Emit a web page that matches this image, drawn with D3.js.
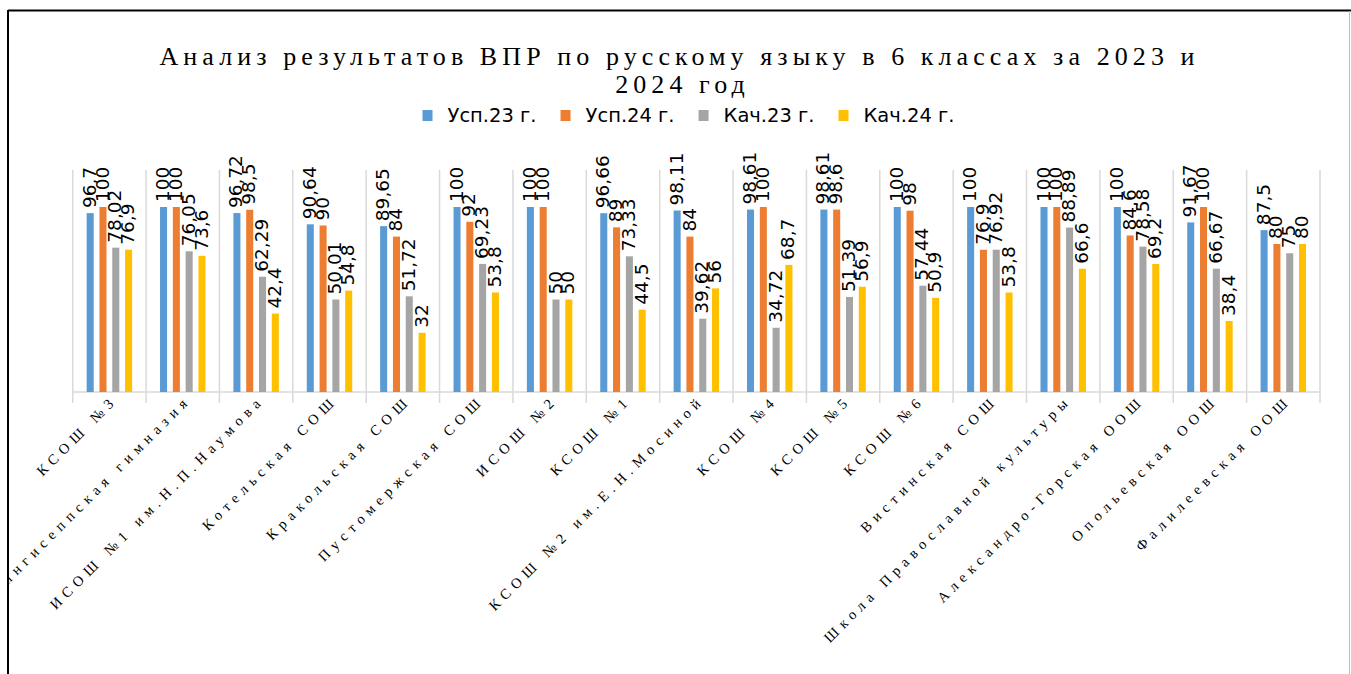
<!DOCTYPE html>
<html><head><meta charset="utf-8">
<script src="https://cdn.jsdelivr.net/npm/d3@7"></script>
<style>body{margin:0;background:#fff;overflow:hidden}</style>
</head><body><svg id="c" width="1351" height="674"></svg>
<script>
const title1 = "Анализ результатов ВПР по русскому языку в 6 классах за 2023 и";
const title2 = "2024 год";
const categories = ["КСОШ №3","Кингисеппская гимназия","ИСОШ №1 им.Н.П.Наумова","Котельская СОШ","Кракольская СОШ","Пустомержская СОШ","ИСОШ №2","КСОШ №1","КСОШ №2 им.Е.Н.Мосиной","КСОШ №4","КСОШ №5","КСОШ №6","Вистинская СОШ","Школа Православной культуры","Александро-Горская ООШ","Опольевская ООШ","Фалилеевская ООШ"];
const seriesNames = ["Усп.23 г.","Усп.24 г.","Кач.23 г.","Кач.24 г."];
const usp23 = [96.7,100,96.72,90.64,89.65,100,100,96.66,98.11,98.61,98.61,100,100,100,100,91.67,87.5];
const usp24 = [100,100,98.5,90,84,92,100,89,84,100,98.6,98,76.9,100,84.6,100,80];
const kach23 = [78.02,76.05,62.29,50.01,51.72,69.23,50,73.33,39.62,34.72,51.39,57.44,76.92,88.89,78.58,66.67,75];
const kach24 = [76.9,73.6,42.4,54.8,32,53.8,50,44.5,56,68.7,56.9,50.9,53.8,66.6,69.2,38.4,80];
const colors = ["#5B9BD5","#ED7D31","#A5A5A5","#FFC000"];

const seriesVals = [usp23, usp24, kach23, kach24];
const svg = d3.select("#c");

// frame
svg.append("defs").append("clipPath").attr("id","frame")
  .append("rect").attr("x",9).attr("y",11).attr("width",1340).attr("height",663);
svg.append("line").attr("x1",8).attr("x2",1351).attr("y1",10.5).attr("y2",10.5).attr("stroke","#000").attr("stroke-width",2);
svg.append("line").attr("x1",8).attr("x2",8).attr("y1",10).attr("y2",674).attr("stroke","#000").attr("stroke-width",2);
svg.append("line").attr("x1",1349.5).attr("x2",1349.5).attr("y1",11).attr("y2",674).attr("stroke","#bfbfbf").attr("stroke-width",1);

// title
const tfont = "'Liberation Serif','Times New Roman',serif";
const t1 = svg.append("text").attr("x",677).attr("y",65).attr("text-anchor","middle")
  .style("font-family",tfont).style("font-size","26px").text(title1);
const nat = t1.node().getComputedTextLength();
const ls = (1035 - nat) / (title1.length - 1);
t1.style("letter-spacing", ls + "px").attr("x", 677 + ls/2);
svg.append("text").attr("x",680 + ls/2).attr("y",93).attr("text-anchor","middle")
  .style("font-family",tfont).style("font-size","26px")
  .style("letter-spacing", ls + "px").text(title2);

// legend
const lg = svg.append("g");
let lx = 0;
seriesNames.forEach((s,i) => {
  lg.append("rect").attr("x",lx).attr("y",110).attr("width",10).attr("height",11).attr("fill",colors[i]);
  const t = lg.append("text").attr("x",lx+25).attr("y",122)
    .style("font-family","'DejaVu Sans',sans-serif").style("font-size","19.5px").attr("fill","#000").text(s);
  lx += 25 + t.node().getComputedTextLength() + 24;
});
lx -= 24;
lg.attr("transform", `translate(${688.5 - lx/2},0)`);

// scales
const x0 = d3.scaleBand().domain(categories).range([72.7, 1320]).paddingInner(0).paddingOuter(0);
const x1 = d3.scaleBand().domain(seriesNames).range([0, x0.bandwidth()]).paddingInner(0.45).paddingOuter(1.09);
const y = d3.scaleLinear().domain([0,120]).range([392,170]);

// gridlines (category separators)
const bounds = categories.map(c => x0(c)).concat([x0(categories[categories.length-1]) + x0.bandwidth()]);
svg.append("g").selectAll("line").data(bounds).join("line")
  .attr("x1",d=>d).attr("x2",d=>d).attr("y1",170).attr("y2",403)
  .attr("stroke","#d9d9d9").attr("stroke-width",1.5);
svg.append("line").attr("x1",72.7).attr("x2",1320).attr("y1",y(0)).attr("y2",y(0))
  .attr("stroke","#d9d9d9").attr("stroke-width",1.5);

// bars
const data = [];
categories.forEach((c,ci) => seriesNames.forEach((s,si) => data.push({c, s, si, v: seriesVals[si][ci]})));
svg.append("g").selectAll("rect").data(data).join("rect")
  .attr("x", d => x0(d.c) + x1(d.s))
  .attr("y", d => y(d.v))
  .attr("width", x1.bandwidth())
  .attr("height", d => y(0) - y(d.v))
  .attr("fill", d => colors[d.si]);

// value labels
svg.append("g").selectAll("text").data(data).join("text")
  .attr("transform", d => `translate(${x0(d.c) + x1(d.s) + x1.bandwidth()/2},${y(d.v) - 5}) rotate(-90)`)
  .attr("dy","0.3em")
  .style("font-family","'DejaVu Sans',sans-serif").style("font-size","18.5px").attr("fill","#000")
  .text(d => String(d.v).replace(".", ","));

// category labels
const xl = svg.append("g").attr("clip-path","url(#frame)");
xl.selectAll("text").data(categories).join("text")
  .attr("transform", d => `translate(${x0(d) + x0.bandwidth()/2 + 9},${401}) rotate(-45)`)
  .attr("text-anchor","end")
  .style("font-family","'Liberation Serif','Times New Roman',serif").style("font-size","14.5px")
  .style("letter-spacing","5.5px").attr("fill","#000")
  .text(d => d);
</script>
</body></html>
